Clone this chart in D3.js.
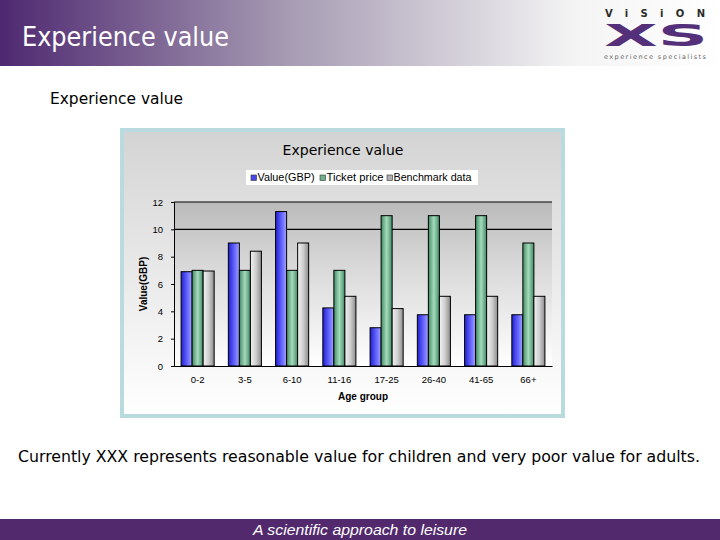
<!DOCTYPE html>
<html>
<head>
<meta charset="utf-8">
<script src="https://cdn.jsdelivr.net/npm/d3@7"></script>
<style>
  body { margin: 0; background: #fff; }
  svg { display: block; }
</style>
</head>
<body>
<div id="slide"></div>
<script>
// chart data
const ageGroups = ["0-2", "3-5", "6-10", "11-16", "17-25", "26-40", "41-65", "66+"];
const seriesNames = ["Value(GBP)", "Ticket price", "Benchmark data"];
const valueGBP = [6.9, 9, 11.3, 4.25, 2.8, 3.75, 3.75, 3.75];
const ticketPrice = [7, 7, 7, 7, 11, 11, 11, 9];
const benchmark = [6.95, 8.4, 9, 5.1, 4.2, 5.1, 5.1, 5.1];
const yTicks = [0, 2, 4, 6, 8, 10, 12];
const gridValues = [10, 12];

const W = 720, H = 540;
const svg = d3.select("#slide").append("svg")
    .attr("width", W).attr("height", H);

const defs = svg.append("defs");

// header gradient
const hg = defs.append("linearGradient").attr("id", "headGrad");
hg.append("stop").attr("offset", "0%").attr("stop-color", "#4e2870");
hg.append("stop").attr("offset", "40%").attr("stop-color", "#a69bb3");
hg.append("stop").attr("offset", "80%").attr("stop-color", "#f4f4f4");
hg.append("stop").attr("offset", "100%").attr("stop-color", "#ffffff");

svg.append("rect").attr("x", 0).attr("y", 0).attr("width", W).attr("height", 66)
    .attr("fill", "url(#headGrad)");

svg.append("text").attr("x", 22).attr("y", 46)
    .attr("fill", "#fff")
    .style("font-family", "'DejaVu Sans Condensed', 'DejaVu Sans', sans-serif")
    .style("font-size", "26px")
    .attr("textLength", 207).attr("lengthAdjust", "spacingAndGlyphs")
    .text("Experience value");

// logo
const logo = svg.append("g").attr("transform", "translate(604,0)");
logo.append("text").attr("x", 1).attr("y", 17)
    .attr("fill", "#2b2b2b")
    .style("font-family", "'DejaVu Sans', sans-serif")
    .style("font-weight", "bold").style("font-size", "10px")
    .attr("textLength", 100).attr("lengthAdjust", "spacing")
    .text("ViSiON");
logo.append("text").attr("x", 0).attr("y", 46)
    .attr("fill", "#55307a")
    .style("font-family", "'DejaVu Sans', sans-serif")
    .style("font-weight", "bold").style("font-size", "31px")
    .attr("textLength", 104).attr("lengthAdjust", "spacingAndGlyphs")
    .text("XS");
logo.append("text").attr("x", 0).attr("y", 59)
    .attr("fill", "#666")
    .style("font-family", "'DejaVu Sans', sans-serif")
    .style("font-size", "6.5px")
    .attr("textLength", 102)
    .text("experience specialists");

// subtitle
svg.append("text").attr("x", 50).attr("y", 104)
    .attr("fill", "#000")
    .style("font-family", "'DejaVu Sans Condensed', 'DejaVu Sans', sans-serif")
    .style("font-size", "16.5px")
    .attr("textLength", 133).attr("lengthAdjust", "spacingAndGlyphs")
    .text("Experience value");

// chart frame
const frame = {x: 120, y: 128, w: 445, h: 290};
const cg = defs.append("linearGradient").attr("id", "chartGrad")
    .attr("x1", 0).attr("y1", 0).attr("x2", 0).attr("y2", 1);
cg.append("stop").attr("offset", "0%").attr("stop-color", "#d4d4d4");
cg.append("stop").attr("offset", "100%").attr("stop-color", "#ffffff");

svg.append("rect").attr("x", frame.x).attr("y", frame.y)
    .attr("width", frame.w).attr("height", frame.h)
    .attr("fill", "#b9dade");
svg.append("rect").attr("x", frame.x + 4).attr("y", frame.y + 4)
    .attr("width", frame.w - 8).attr("height", frame.h - 8)
    .attr("fill", "url(#chartGrad)");

const margin = {left: 174, right: 552, top: 202, bottom: 366};

const x = d3.scaleBand().domain(ageGroups)
    .range([margin.left, margin.right]).paddingInner(0.3).paddingOuter(0.15);
const xs = d3.scaleBand().domain(seriesNames).range([0, x.bandwidth()]);
const y = d3.scaleLinear().domain([0, 12]).range([margin.bottom, margin.top]);

// plot area
const pg = defs.append("linearGradient").attr("id", "plotGrad")
    .attr("x1", 0).attr("y1", 0).attr("x2", 0).attr("y2", 1);
pg.append("stop").attr("offset", "0%").attr("stop-color", "#bababa");
pg.append("stop").attr("offset", "35%").attr("stop-color", "#d6d6d6");
pg.append("stop").attr("offset", "100%").attr("stop-color", "#ffffff");
svg.append("rect").attr("x", margin.left).attr("y", margin.top)
    .attr("width", margin.right - margin.left).attr("height", margin.bottom - margin.top)
    .attr("fill", "url(#plotGrad)");

svg.selectAll("line.grid").data(gridValues).enter().append("line")
    .attr("class", "grid")
    .attr("x1", margin.left).attr("x2", margin.right)
    .attr("y1", d => y(d)).attr("y2", d => y(d))
    .attr("stroke", "#000").attr("stroke-width", 1.2);

// bar gradients
function hGrad(id, stops) {
    const g = defs.append("linearGradient").attr("id", id);
    stops.forEach(s => g.append("stop").attr("offset", s[0]).attr("stop-color", s[1]));
}
hGrad("gBlue", [["0%", "#2020d4"], ["60%", "#6a6aff"], ["100%", "#a4a4ff"]]);
hGrad("gGreen", [["0%", "#3f8c64"], ["50%", "#a6dabd"], ["100%", "#3f8c64"]]);
hGrad("gGray", [["0%", "#f2f2f2"], ["50%", "#cfcfcf"], ["100%", "#8c8c8c"]]);
const fills = {"Value(GBP)": "url(#gBlue)", "Ticket price": "url(#gGreen)", "Benchmark data": "url(#gGray)"};
const legendColors = {"Value(GBP)": "#4848e8", "Ticket price": "#6fb28c", "Benchmark data": "#b0b0b0"};

const rows = ageGroups.map((g, i) => ({
    group: g,
    vals: [valueGBP[i], ticketPrice[i], benchmark[i]]
}));

const groups = svg.selectAll("g.grp").data(rows).enter().append("g")
    .attr("class", "grp")
    .attr("transform", d => "translate(" + x(d.group) + ",0)");

groups.selectAll("rect").data(d => d.vals.map((v, k) => ({name: seriesNames[k], v: v})))
    .enter().append("rect")
    .attr("x", d => xs(d.name))
    .attr("width", xs.bandwidth())
    .attr("y", d => y(d.v))
    .attr("height", d => y(0) - y(d.v))
    .attr("fill", d => fills[d.name])
    .attr("stroke", "#000").attr("stroke-width", 1);

// axes
const font = "'Liberation Sans', Arial, sans-serif";
const yAxis = svg.append("g").attr("transform", "translate(" + margin.left + ",0)")
    .call(d3.axisLeft(y).tickValues(yTicks).tickSize(3).tickPadding(8));
yAxis.select(".domain").attr("stroke", "#000");
yAxis.selectAll("text").style("font-family", font).style("font-size", "9.5px").attr("fill", "#000");

const xAxis = svg.append("g").attr("transform", "translate(0," + margin.bottom + ")")
    .call(d3.axisBottom(x).tickSize(0).tickPadding(10));
xAxis.select(".domain").attr("stroke", "#000");
xAxis.selectAll("text").style("font-family", font).style("font-size", "9.5px").attr("fill", "#000");

svg.append("text").attr("x", 363).attr("y", 400)
    .attr("text-anchor", "middle")
    .style("font-family", font).style("font-size", "10px").style("font-weight", "bold")
    .text("Age group");

svg.append("text")
    .attr("transform", "translate(147," + (margin.top + margin.bottom) / 2 + ") rotate(-90)")
    .attr("text-anchor", "middle")
    .style("font-family", font).style("font-size", "10px").style("font-weight", "bold")
    .text("Value(GBP)");

// chart title
svg.append("text").attr("x", 343).attr("y", 155)
    .attr("text-anchor", "middle")
    .style("font-family", "'DejaVu Sans', sans-serif").style("font-size", "14px")
    .text("Experience value");

// legend
const legend = svg.append("g").attr("transform", "translate(246,170)");
legend.append("rect").attr("width", 232).attr("height", 15).attr("fill", "#fff");
const legX = [5, 74, 141];
const legW = [57, 57, 78];
seriesNames.forEach((s, i) => {
    legend.append("rect").attr("x", legX[i]).attr("y", 5).attr("width", 5.5).attr("height", 5.5)
        .attr("fill", legendColors[s]).attr("stroke", "#333").attr("stroke-width", 0.6);
    legend.append("text").attr("x", legX[i] + 6.5).attr("y", 11)
        .style("font-family", font).style("font-size", "10px")
        .attr("textLength", legW[i]).attr("lengthAdjust", "spacingAndGlyphs")
        .text(s);
});

// caption
svg.append("text").attr("x", 18).attr("y", 462)
    .style("font-family", "'DejaVu Sans Condensed', 'DejaVu Sans', sans-serif")
    .style("font-size", "16px")
    .attr("textLength", 682).attr("lengthAdjust", "spacingAndGlyphs")
    .text("Currently XXX represents reasonable value for children and very poor value for adults.");

// footer
svg.append("rect").attr("x", 0).attr("y", 519).attr("width", W).attr("height", 21)
    .attr("fill", "#52296c");
svg.append("text").attr("x", 253).attr("y", 535)
    .attr("fill", "#fff")
    .style("font-family", font).style("font-size", "15px").style("font-style", "italic")
    .attr("textLength", 214).attr("lengthAdjust", "spacingAndGlyphs")
    .text("A scientific approach to leisure");
</script>
</body>
</html>
